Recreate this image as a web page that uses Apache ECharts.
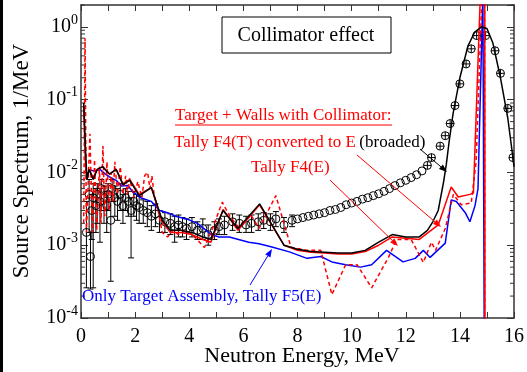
<!DOCTYPE html>
<html><head><meta charset="utf-8">
<script src="https://cdn.jsdelivr.net/npm/echarts@6/dist/echarts.min.js"></script>
<style>html,body{margin:0;padding:0;background:#fff}#c{width:527px;height:372px}</style>
</head><body><div id="c"></div>
<script>
const FONT = '"Liberation Serif", "Times New Roman", serif';

// ---- axis ticks ----
const xTickValues = [0,1,2,3,4,5,6,7,8,9,10,11,12,13,14,15,16];
const xTickLabels = ['0','','2','','4','','6','','8','','10','','12','','14','','16'];
const yMajorTicks = [1e-4,1e-3,1e-2,1e-1,1];
const yMinorTicks = [2e-4,3e-4,4e-4,5e-4,6e-4,7e-4,8e-4,9e-4,
  2e-3,3e-3,4e-3,5e-3,6e-3,7e-3,8e-3,9e-3,
  2e-2,3e-2,4e-2,5e-2,6e-2,7e-2,8e-2,9e-2,
  0.2,0.3,0.4,0.5,0.6,0.7,0.8,0.9,2];

// ---- Tally F4(T) converted to E (broadened) : black solid ----
const f4tBroadened = [
[0.1,0.09],[0.17,0.02],[0.22,0.008],[0.3,0.011],[0.45,0.008],[0.6,0.011],[0.8,0.012],[1.05,0.0095],
[1.3,0.011],[1.55,0.0068],[1.8,0.0078],[2.15,0.0048],[2.6,0.0062],[3.0,0.0022],[3.3,0.0016],[3.7,0.0016],
[4.1,0.0015],[4.5,0.0013],[4.8,0.0012],[5.25,0.0030],[5.8,0.0017],[6.6,0.0037],[7.5,0.0010],[8.0,0.00088],
[8.5,0.00082],[9.0,0.0008],[9.5,0.00078],[10.0,0.00078],[10.5,0.00085],[11.0,0.0011],[11.5,0.0014],[12.0,0.0013],
[12.5,0.0013],[12.8,0.0016],[13.0,0.0021],[13.2,0.003],[13.4,0.0075],[13.5,0.013],[13.6,0.026],[13.75,0.065],
[14.0,0.2],[14.3,0.55],[14.55,0.85],[14.8,1.0],[15.0,0.95],[15.22,0.6],[15.5,0.2],[15.77,0.056],[15.96,0.016],[16.0,0.012]
];

// ---- Tally F4(E) : red solid ----
const f4E = [
[0.1,0.08],[0.15,0.018],[0.2,0.008],[0.3,0.011],[0.45,0.0085],[0.6,0.011],[0.8,0.012],[1.05,0.0095],
[1.3,0.011],[1.55,0.007],[1.8,0.008],[2.15,0.005],[2.6,0.0062],[3.0,0.0021],[3.3,0.0015],[3.7,0.0015],
[4.1,0.0014],[4.5,0.0012],[4.8,0.0011],[5.25,0.0031],[5.8,0.0016],[6.6,0.0036],[7.5,0.001],[8.0,0.00085],
[8.5,0.0008],[9.0,0.00078],[9.5,0.00076],[10.0,0.00076],[10.5,0.00082],[11.0,0.001],[11.5,0.0013],[12.0,0.00125],
[12.5,0.0012],[13.2,0.0019],[13.68,0.0063],[13.94,0.0046],[14.37,0.005],[14.5,0.0052],[14.76,3],[14.92,3],[14.93,1e-6]
];

// ---- Tally F4(E), fine bins : red dashed ----
const f4EFine = [
[0.1,0.002],[0.15,0.7],[0.2,0.0015],[0.33,0.034],[0.42,0.0015],[0.5,0.015],[0.58,0.0016],[0.68,0.012],
[0.74,0.002],[0.81,0.023],[0.88,0.0025],[0.96,0.014],[1.04,0.003],[1.12,0.01],[1.18,0.004],[1.25,0.014],
[1.35,0.005],[1.45,0.012],[1.55,0.005],[1.65,0.009],[1.72,0.005],[1.8,0.0083],[1.95,0.0045],[2.1,0.0075],
[2.25,0.0045],[2.35,0.009],[2.46,0.01],[2.55,0.006],[2.62,0.009],[2.7,0.005],[2.85,0.003],[3.0,0.0015],
[3.2,0.0013],[3.4,0.0016],[3.6,0.0014],[3.9,0.0016],[4.2,0.0013],[4.56,0.00093],[4.8,0.0015],[5.22,0.0039],
[5.5,0.0025],[5.8,0.0018],[6.28,0.0026],[6.58,0.0017],[7.2,0.0048],[7.76,0.00094],[8.35,0.00085],[8.86,0.00085],
[9.27,0.00021],[9.78,0.00054],[10.2,0.00054],[10.74,0.00026],[11.36,0.00068],[11.66,0.0012],[12.2,0.0012],[12.65,0.00058],
[12.95,0.0011],[13.1,0.00085],[13.46,0.0017],[13.76,0.005],[14.05,0.0036],[14.42,0.0038],[14.6,0.014],[14.82,3],
[14.91,3],[14.92,1e-6]
];

// ---- Only Target Assembly, Tally F5(E) : blue ----
const f5E = [
[0.3,0.0108],[0.5,0.0105],[0.7,0.011],[0.9,0.0095],[1.1,0.0085],[1.3,0.0078],[1.5,0.0065],[1.73,0.0066],
[1.9,0.0055],[2.2,0.0045],[2.6,0.004],[2.9,0.003],[3.2,0.0028],[3.5,0.0025],[3.9,0.0023],[4.3,0.002],
[4.82,0.0014],[5.1,0.0013],[5.48,0.0013],[6.2,0.0011],[6.58,0.00105],[7.02,0.00095],[7.7,0.00081],[8.35,0.00066],
[8.86,0.0007],[9.27,0.00059],[9.78,0.00054],[10.33,0.0005],[10.74,0.00054],[11.29,0.00085],[11.9,0.00059],[12.35,0.00066],
[12.65,0.00085],[12.9,0.00068],[13.46,0.00107],[13.68,0.0042],[13.87,0.004],[14.2,0.0028],[14.37,0.0021],[14.56,0.0035],
[14.67,0.006],[14.85,3],[14.91,3],[14.92,1e-6]
];

// ---- measurement: [E, value, lower, upper] ----
const measured = [
[0.2,0.0015,0.00026,0.004],[0.3,0.005,0.0015,0.008],[0.35,0.0007,0.00025,0.0015],[0.4,0.003,0.0012,0.005],
[0.45,0.0045,0.00026,0.007],[0.55,0.0035,0.0015,0.006],[0.6,0.005,0.002,0.007],[0.7,0.004,0.0011,0.006],
[0.75,0.006,0.003,0.008],[0.85,0.0045,0.002,0.0065],[0.95,0.0035,0.0015,0.0055],[1.0,0.005,0.003,0.007],
[1.1,0.0022,0.00032,0.004],[1.15,0.006,0.004,0.008],[1.25,0.0045,0.0025,0.0065],[1.35,0.004,0.0022,0.006],
[1.45,0.005,0.003,0.007],[1.55,0.0035,0.002,0.005],[1.65,0.0045,0.003,0.006],[1.75,0.004,0.0025,0.0055],
[1.85,0.003,0.00067,0.0045],[1.95,0.004,0.0025,0.0055],[2.05,0.0035,0.0022,0.005],[2.15,0.0033,0.002,0.0047],
[2.3,0.003,0.002,0.0042],[2.45,0.0028,0.0018,0.004],[2.6,0.0025,0.0016,0.0035],[2.75,0.0027,0.0018,0.0037],
[2.9,0.0022,0.0015,0.003],[3.1,0.0021,0.0015,0.0028],[3.3,0.002,0.0014,0.0027],[3.46,0.0018,0.0011,0.0025],
[3.6,0.0019,0.0013,0.0026],[3.75,0.0018,0.0013,0.0024],[3.9,0.0017,0.0012,0.0023],[4.1,0.0018,0.0013,0.0024],
[4.3,0.0016,0.0012,0.0021],[4.5,0.0017,0.0012,0.0023],[4.7,0.0014,0.001,0.0019],[4.93,0.0016,0.0012,0.0021],
[5.1,0.0018,0.0014,0.0023],[5.3,0.0019,0.0014,0.0025],[5.6,0.0021,0.0016,0.0027],[5.85,0.002,0.0015,0.0026],
[6.1,0.0019,0.0015,0.0025],[6.3,0.002,0.0015,0.0026],[6.55,0.0021,0.0016,0.0027],[6.75,0.0022,0.0017,0.0028],
[7.0,0.0021,0.0016,0.0027],[7.2,0.0023,0.0018,0.0029],[7.5,0.0019,0.0015,0.0024],[7.8,0.0022,0.0018,0.0026],
[8.0,0.0023,0.0023,0.0023],[8.2,0.0024,0.0024,0.0024],[8.4,0.0025,0.0025,0.0025],[8.6,0.0026,0.0026,0.0026],
[8.8,0.0027,0.0027,0.0027],[9.0,0.0028,0.0028,0.0028],[9.2,0.003,0.003,0.003],[9.4,0.0031,0.0031,0.0031],
[9.6,0.0033,0.0033,0.0033],[9.8,0.0036,0.0036,0.0036],[10.0,0.0038,0.0038,0.0038],[10.2,0.004,0.004,0.004],
[10.4,0.0043,0.0043,0.0043],[10.6,0.0045,0.0045,0.0045],[10.8,0.0048,0.0048,0.0048],[11.0,0.0051,0.0051,0.0051],
[11.2,0.0055,0.0055,0.0055],[11.4,0.006,0.006,0.006],[11.6,0.0066,0.0066,0.0066],[11.8,0.0072,0.0072,0.0072],
[12.0,0.0078,0.0078,0.0078],[12.2,0.0085,0.0085,0.0085],[12.4,0.0093,0.0093,0.0093],[12.6,0.0105,0.0105,0.0105],
[12.8,0.0125,0.0125,0.0125],[12.95,0.016,0.016,0.016],[13.27,0.023,0.023,0.023],[13.46,0.032,0.032,0.032],
[13.64,0.047,0.047,0.047],[13.82,0.083,0.083,0.083],[14.0,0.165,0.165,0.165],[14.23,0.31,0.31,0.31],
[14.42,0.5,0.5,0.5],[14.62,0.76,0.76,0.76],[14.95,0.76,0.76,0.76],[15.3,0.47,0.47,0.47],
[15.5,0.23,0.23,0.23],[15.77,0.076,0.076,0.076],[15.96,0.016,0.016,0.016]
];

const RED = '#ff0000', BLUE = '#0000ff', AX = '#333';

function arrow(x1, y1, x2, y2, color) {
  const a = Math.atan2(y2 - y1, x2 - x1), L = 8, W = 3;
  const bx = x2 - L * Math.cos(a), by = y2 - L * Math.sin(a);
  const px = -Math.sin(a) * W, py = Math.cos(a) * W;
  return [
    {type:'line', shape:{x1, y1, x2:bx, y2:by}, style:{stroke:color, lineWidth:1}, z:50},
    {type:'polygon', shape:{points:[[x2,y2],[bx+px,by+py],[bx-px,by-py]]}, style:{fill:color}, z:50}
  ];
}

const chart = echarts.init(document.getElementById('c'), null, {renderer:'canvas'});

const axisCommon = {
  axisLine:{show:true, onZero:false, lineStyle:{color:AX, width:1.5}},
  splitLine:{show:false}
};

const option = {
  animation:false,
  backgroundColor:'#fff',
  grid:{left:81, right:11, top:5, bottom:54},
  xAxis:[
    Object.assign({type:'value', min:0, max:16, interval:1, position:'bottom',
      axisTick:{inside:true, length:6, lineStyle:{color:AX}},
      axisLabel:{color:'#000', fontFamily:FONT, fontSize:20, margin:9,
        formatter:v => { const i = xTickValues.indexOf(v); return i >= 0 ? xTickLabels[i] : ''; }}
    }, axisCommon),
    Object.assign({type:'value', min:0, max:16, interval:1, position:'top',
      axisTick:{inside:true, length:6, lineStyle:{color:AX}}, axisLabel:{show:false}}, axisCommon)
  ],
  yAxis:[
    Object.assign({type:'log', logBase:10, min:1e-4, max:2, position:'left',
      axisTick:{inside:true, length:7, lineStyle:{color:AX}},
      axisLabel:{margin:3, showMaxLabel:false,
        formatter:v => {
          const i = yMajorTicks.findIndex(t => Math.abs(Math.log10(t) - Math.log10(v)) < 1e-6);
          if (i < 0) return '';
          return '{a|10}{b|' + Math.round(Math.log10(yMajorTicks[i])) + '}';
        },
        rich:{
          a:{fontFamily:FONT, fontSize:20, color:'#000', lineHeight:28},
          b:{fontFamily:FONT, fontSize:14, color:'#000', verticalAlign:'top', lineHeight:14}
        }}
    }, axisCommon),
    Object.assign({type:'log', logBase:10, min:1e-4, max:2, position:'right',
      axisTick:{inside:true, length:7, lineStyle:{color:AX}}, axisLabel:{show:false}}, axisCommon)
  ],
  series:[
    { type:'custom', name:'minor', xAxisIndex:0, yAxisIndex:0, silent:true, clip:false,
      data: yMinorTicks.map(v => [0, v]),
      renderItem:(params, api) => {
        const v = api.value(1);
        const pl = api.coord([0, v]), pr = api.coord([16, v]);
        return {type:'group', children:[
          {type:'line', shape:{x1:pl[0], y1:pl[1], x2:pl[0]+4, y2:pl[1]}, style:{stroke:AX, lineWidth:1}},
          {type:'line', shape:{x1:pr[0]-4, y1:pr[1], x2:pr[0], y2:pr[1]}, style:{stroke:AX, lineWidth:1}}
        ]};
      }
    },
    { type:'custom', name:'measured', xAxisIndex:0, yAxisIndex:0, clip:true, z:3,
      data: measured,
      encode:{x:0, y:1},
      renderItem:(params, api) => {
        const e = api.value(0), v = api.value(1), lo = api.value(2), hi = api.value(3);
        const p = api.coord([e, v]);
        const children = [];
        if (hi > lo) {
          const pl = api.coord([e, lo]), ph = api.coord([e, hi]);
          children.push({type:'line', shape:{x1:p[0], y1:pl[1], x2:p[0], y2:ph[1]}, style:{stroke:'#000', lineWidth:1}});
          children.push({type:'line', shape:{x1:p[0]-3, y1:pl[1], x2:p[0]+3, y2:pl[1]}, style:{stroke:'#000', lineWidth:1}});
          children.push({type:'line', shape:{x1:p[0]-3, y1:ph[1], x2:p[0]+3, y2:ph[1]}, style:{stroke:'#000', lineWidth:1}});
        }
        children.push({type:'circle', shape:{cx:p[0], cy:p[1], r:4}, style:{fill:'none', stroke:'#000', lineWidth:1}});
        if (e >= 12.7) {
          children.push({type:'line', shape:{x1:p[0]-4, y1:p[1], x2:p[0]+4, y2:p[1]}, style:{stroke:'#000', lineWidth:1}});
          children.push({type:'line', shape:{x1:p[0], y1:p[1]-4, x2:p[0], y2:p[1]+4}, style:{stroke:'#000', lineWidth:1}});
        }
        return {type:'group', children};
      }
    },
    { type:'line', name:'F5(E)', data:f5E, showSymbol:false, clip:true, z:4,
      lineStyle:{color:BLUE, width:1.5} },
    { type:'line', name:'F4(E) fine', data:f4EFine, showSymbol:false, clip:true, z:5,
      lineStyle:{color:RED, width:1.5, type:[4,3]} },
    { type:'line', name:'F4(E)', data:f4E, showSymbol:false, clip:true, z:6,
      lineStyle:{color:RED, width:1.5} },
    { type:'line', name:'F4(T) broadened', data:f4tBroadened, showSymbol:false, clip:true, z:7,
      lineStyle:{color:'#000', width:1.5} }
  ],
  graphic:[
    {type:'rect', shape:{x:0, y:0, width:3, height:372}, style:{fill:'#000'}},
    {type:'rect', shape:{x:222, y:17, width:169, height:36}, style:{fill:'#fff', stroke:'#000', lineWidth:1}, z:40},
    {type:'text', x:306, y:36, z:41, style:{text:'Collimator effect', fill:'#000', font:'20px ' + FONT, textAlign:'center', textVerticalAlign:'middle'}},
    {type:'text', x:175, y:116, z:41, style:{text:'Target + Walls with Collimator:', fill:RED, font:'17px ' + FONT, textAlign:'left', textVerticalAlign:'middle'}},
    {type:'line', shape:{x1:175, y1:125, x2:392, y2:125}, style:{stroke:RED, lineWidth:1}, z:41},
    {type:'text', x:174, y:143, z:41, style:{
      text:'{r|Tally F4(T) converted to E} {k|(broaded)}',
      rich:{r:{fill:RED, font:'17px ' + FONT}, k:{fill:'#000', font:'17px ' + FONT}},
      textAlign:'left', textVerticalAlign:'middle'}},
    {type:'text', x:251, y:168, z:41, style:{text:'Tally F4(E)', fill:RED, font:'17px ' + FONT, textAlign:'left', textVerticalAlign:'middle'}},
    {type:'text', x:82, y:297, z:41, style:{text:'Only Target Assembly, Tally F5(E)', fill:BLUE, font:'17px ' + FONT, textAlign:'left', textVerticalAlign:'middle'}},
    {type:'text', x:22, y:161, rotation:Math.PI/2, z:41, style:{text:'Source Spectrum, 1/MeV', fill:'#000', font:'23px ' + FONT, textAlign:'center', textVerticalAlign:'middle'}},
    {type:'text', x:302, y:356, z:41, style:{text:'Neutron Energy, MeV', fill:'#000', font:'22px ' + FONT, textAlign:'center', textVerticalAlign:'middle'}},
    ...arrow(420, 149, 447, 172, '#000'),
    ...arrow(357, 155, 441, 227, RED),
    ...arrow(330, 180, 398, 246, RED),
    ...arrow(250, 285, 272, 249, BLUE)
  ]
};
chart.setOption(option);
</script>
</body></html>
